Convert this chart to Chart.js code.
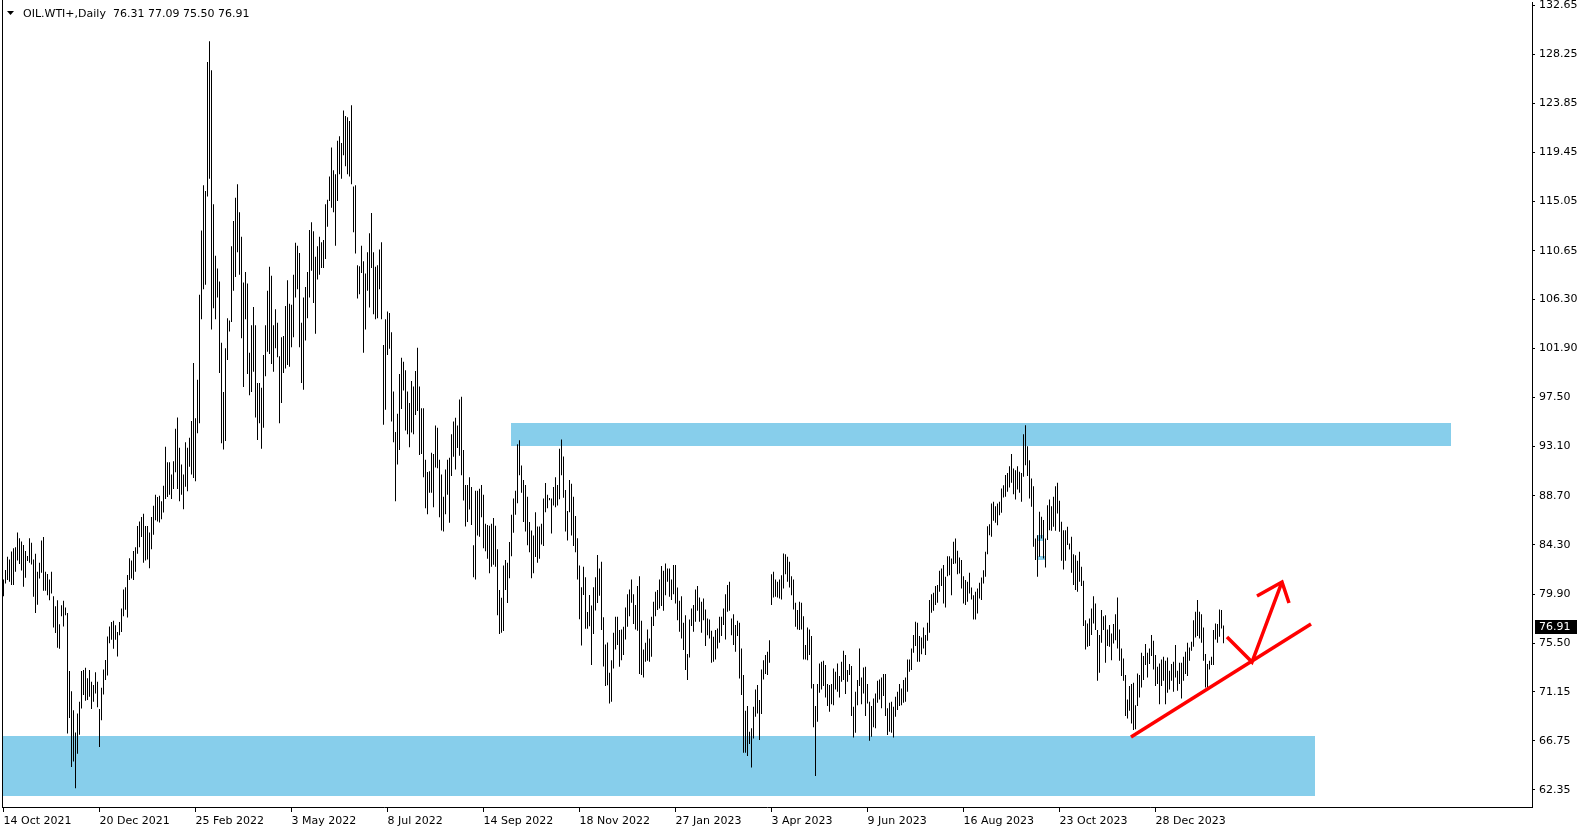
<!DOCTYPE html>
<html>
<head>
<meta charset="utf-8">
<title>OIL.WTI+ Daily</title>
<script src="https://cdn.jsdelivr.net/npm/chart.js@4.4.1/dist/chart.umd.min.js"></script>
<style>
  html, body { margin: 0; padding: 0; background: #fff; overflow: hidden; }
  #wrap { position: relative; width: 1583px; height: 832px; }
</style>
</head>
<body>
<div id="wrap"><canvas id="myChart"></canvas></div>
<script>
// header
const symbolName = 'OIL.WTI+,Daily';
const lastBar = [76.31, 77.09, 75.50, 76.91];   // open high low close of the last bar

// daily bars, one value per bar (index 0 = 14 Oct 2021)
const barLow = [
  79.7, 80.85, 81.15, 81.0, 80.7, 80.7, 81.9, 82.9, 82.6, 82.0,            // 0
  80.55, 81.35, 82.85, 82.7, 82.55, 79.65, 78.2, 78.95, 81.3, 81.8,        // 10
  80.2, 80.2, 79.8, 79.35, 79.95, 76.9, 76.4, 75.1, 75.0, 77.9,            // 20
  77.0, 78.0, 67.4, 68.8, 64.4, 64.9, 62.5, 65.6, 67.3, 69.65,             // 30
  70.85, 70.35, 70.4, 70.7, 69.6, 70.25, 71.0, 69.75, 66.2, 68.6,          // 40
  70.9, 72.2, 72.6, 75.5, 75.8, 75.0, 75.8, 74.3, 76.2, 76.5,              // 50
  77.9, 78.5, 77.8, 81.15, 81.3, 81.15, 81.9, 83.5, 84.1, 85.0,            // 60
  82.7, 82.9, 83.0, 82.2, 83.9, 85.2, 86.5, 86.4, 86.3, 86.6,              // 70
  87.2, 88.4, 88.6, 88.8, 88.4, 89.3, 90.8, 89.3, 88.2, 88.8,              // 80
  87.5, 89.5, 89.1, 91.3, 90.6, 90.3, 90.0, 94.3, 95.2, 104.5,             // 90
  107.2, 107.6, 115.5, 117.1, 103.6, 105.5, 104.5, 106.45, 99.7, 93.4,     // 100
  92.85, 93.6, 100.85, 103.4, 104.27, 107.05, 108.3, 110.5, 108.5, 102.8,  // 110
  98.45, 104.5, 99.6, 97.7, 98.0, 99.8, 95.7, 93.7, 95.2, 92.9,            // 120
  94.8, 99.4, 101.6, 101.4, 100.5, 99.8, 101.9, 101.1, 95.2, 97.0,         // 130
  99.7, 100.1, 100.4, 100.25, 102.0, 102.9, 106.45, 107.2, 102.0, 98.8,    // 140
  98.2, 102.6, 104.6, 106.45, 108.85, 105.97, 103.2, 108.06, 108.5, 109.1, // 150
  109.1, 109.9, 112.8, 115.1, 114.5, 114.1, 111.1, 115.1, 117.5, 117.1,    // 160
  119.2, 118.2, 117.5, 117.3, 116.6, 112.3, 110.4, 106.36, 106.75, 108.66, // 170
  101.5, 103.6, 107.05, 105.56, 109.1, 104.96, 104.5, 104.6, 107.2, 104.5, // 180
  95.05, 96.4, 101.3, 101.86, 95.35, 93.5, 88.2, 91.5, 92.8, 96.46,        // 190
  98.13, 94.54, 94.2, 93.05, 94.37, 94.2, 95.94, 96.3, 92.35, 92.45,       // 200
  90.36, 87.58, 87.05, 88.97, 88.97, 87.68, 91.24, 91.17, 86.78, 85.6,     // 210
  85.49, 87.05, 88.8, 86.29, 90.47, 92.2, 91.06, 92.98, 92.28, 90.54,      // 220
  88.27, 85.94, 86.36, 87.47, 86.08, 81.41, 81.2, 85.14, 85.03, 86.78,     // 230
  83.99, 83.74, 83.05, 81.76, 82.35, 82.53, 82.35, 78.0, 76.33, 76.43,     // 240
  76.6, 80.26, 79.1, 81.31, 83.29, 85.38, 86.99, 88.03, 90.54, 88.97,      // 250
  86.36, 85.49, 84.27, 83.64, 81.31, 81.76, 83.22, 82.7, 83.05, 84.34,     // 260
  84.2, 87.23, 87.58, 88.3, 85.31, 87.82, 87.68, 87.82, 88.38, 90.54,      // 270
  88.52, 85.49, 84.69, 87.23, 85.14, 84.2, 83.64, 81.2, 77.65, 75.28,      // 280
  79.81, 76.78, 76.78, 77.02, 73.54, 76.33, 78.42, 79.1, 79.74, 76.67,     // 290
  73.4, 71.66, 71.73, 70.1, 70.25, 73.24, 74.94, 75.33, 73.39, 73.98,      // 300
  74.43, 75.83, 76.97, 77.92, 79.12, 77.21, 76.73, 76.61, 72.73, 72.64,    // 310
  72.43, 73.83, 73.92, 73.83, 74.28, 77.03, 77.92, 78.46, 78.61, 78.82,    // 320
  78.4, 79.8, 81.0, 79.65, 79.36, 79.89, 79.06, 77.56, 76.52, 75.92,       // 330
  74.88, 73.09, 72.19, 74.22, 77.03, 76.52, 77.42, 78.4, 77.42, 76.43,     // 340
  77.56, 75.24, 76.2, 75.92, 73.74, 73.83, 74.04, 75.03, 75.54, 76.13,     // 350
  77.12, 75.83, 78.31, 78.4, 76.2, 75.33, 74.73, 76.13, 72.34, 70.85,      // 360
  65.69, 65.69, 65.39, 66.46, 64.37, 66.97, 68.91, 69.21, 66.82, 69.15,    // 370
  72.25, 72.73, 72.64, 73.74, 78.91, 79.59, 79.65, 79.59, 79.5, 79.41,     // 380
  80.4, 81.68, 81.0, 80.49, 79.8, 78.52, 76.97, 76.73, 76.67, 76.73,       // 390
  74.04, 74.04, 73.98, 74.43, 71.45, 67.96, 63.6, 68.46, 71.06, 71.36,     // 400
  71.66, 70.64, 69.87, 69.36, 70.04, 69.95, 71.36, 71.15, 70.64, 72.04,    // 410
  72.19, 70.94, 72.04, 72.64, 68.97, 67.06, 67.48, 69.95, 71.66, 70.04,    // 420
  70.99, 68.97, 70.1, 66.76, 67.12, 67.96, 67.87, 70.16, 70.46, 69.66,     // 430
  70.76, 68.97, 67.27, 67.57, 67.48, 67.06, 68.91, 69.51, 69.87, 69.95,    // 440
  70.16, 70.25, 71.15, 72.94, 73.09, 74.64, 75.24, 73.83, 73.83, 74.5,     // 450
  75.03, 74.43, 75.71, 76.43, 78.22, 78.4, 78.91, 79.12, 80.1, 80.61,      // 460
  79.06, 78.7, 81.5, 81.59, 79.8, 82.58, 82.64, 81.68, 81.74, 80.4,        // 470
  79.06, 78.91, 79.21, 79.95, 79.41, 77.62, 77.62, 78.16, 79.5, 79.36,     // 480
  80.85, 81.44, 83.47, 85.17, 85.02, 86.46, 86.28, 86.07, 86.96, 87.17,    // 490
  88.55, 88.61, 89.05, 89.44, 89.86, 88.84, 88.37, 89.26, 88.96, 88.16,    // 500
  90.4, 91.44, 90.46, 88.46, 87.71, 84.13, 82.94, 81.44, 83.23, 84.88,     // 510
  83.08, 82.28, 84.73, 85.62, 85.56, 85.92, 85.56, 87.11, 85.47, 82.88,    // 520
  82.1, 82.88, 84.28, 83.89, 81.8, 80.7, 80.25, 80.1, 80.99, 80.61,        // 530
  77.03, 74.94, 75.18, 75.24, 76.22, 77.27, 76.67, 72.13, 72.85, 75.54,    // 540
  76.67, 73.74, 75.24, 75.18, 73.98, 75.48, 75.77, 75.03, 73.92, 72.55,    // 550
  72.13, 68.97, 68.76, 69.45, 68.31, 67.72, 67.78, 69.87, 70.64, 71.54,    // 560
  72.19, 73.54, 72.43, 73.63, 74.34, 73.15, 71.66, 71.84, 70.04, 71.66,    // 570
  72.13, 70.04, 71.06, 71.36, 72.13, 71.15, 72.43, 71.24, 71.84, 70.55,    // 580
  72.13, 72.73, 72.55, 73.92, 74.82, 75.18, 76.01, 76.13, 75.92, 75.54,    // 590
  73.92, 71.54, 71.45, 73.15, 73.54, 73.54, 75.83, 75.54, 76.07, 76.82,    // 600
  75.50                                                                    // 610
];
const barHigh = [
  81.2, 82.05, 83.24, 83.0, 83.7, 84.0, 84.1, 85.4, 84.9, 84.6,            // 0
  84.3, 83.75, 83.3, 84.9, 84.5, 83.0, 83.5, 81.9, 82.7, 84.7,             // 10
  85.0, 81.9, 81.7, 81.2, 81.9, 79.7, 78.8, 79.35, 77.2, 78.9,             // 20
  79.3, 78.7, 78.2, 73.0, 71.2, 69.5, 67.5, 69.2, 70.25, 73.0,             // 30
  73.1, 73.3, 72.35, 73.1, 72.05, 71.75, 72.9, 72.05, 69.6, 71.5,          // 40
  73.15, 74.0, 76.1, 77.0, 77.4, 77.5, 77.1, 76.5, 77.4, 78.6,             // 50
  80.3, 80.5, 81.6, 83.1, 82.9, 83.75, 84.1, 86.0, 86.4, 86.8,             // 60
  87.1, 86.0, 86.0, 85.4, 86.8, 87.8, 88.8, 88.6, 88.7, 88.2,              // 70
  89.6, 93.1, 91.7, 91.7, 90.6, 91.8, 94.7, 95.7, 93.0, 91.5,              // 80
  90.6, 93.5, 93.0, 93.9, 95.4, 100.6, 95.65, 99.1, 106.7, 112.45,         // 90
  116.5, 116.0, 127.55, 129.4, 126.8, 114.8, 110.2, 109.05, 107.9, 102.4,  // 100
  98.0, 101.9, 104.6, 104.4, 111.05, 113.3, 115.4, 116.6, 114.1, 111.9,    // 110
  107.8, 108.75, 107.7, 101.5, 103.97, 105.6, 103.97, 98.8, 98.8, 98.37,   // 120
  101.3, 103.97, 107.05, 109.2, 108.4, 103.97, 105.4, 104.2, 101.2, 102.9, // 130
  103.0, 105.7, 108.0, 105.9, 105.8, 108.5, 111.35, 111.1, 110.45, 104.2,  // 140
  106.45, 107.4, 108.75, 112.5, 113.2, 112.4, 110.1, 111.05, 111.9, 111.4, // 150
  111.6, 114.8, 115.2, 117.3, 119.9, 117.85, 117.5, 120.5, 120.9, 120.3,   // 160
  123.2, 122.7, 122.6, 122.27, 123.67, 116.4, 116.5, 109.35, 109.26, 111.1,// 170
  109.7, 108.6, 110.5, 112.2, 114.03, 110.5, 109.2, 109.35, 110.75, 111.4, // 180
  102.2, 104.5, 105.2, 105.06, 103.35, 98.03, 94.4, 96.04, 99.6, 101.06,   // 190
  100.7, 99.94, 98.03, 97.0, 98.97, 98.48, 99.87, 101.96, 98.48, 96.53,    // 200
  96.53, 91.93, 90.82, 90.89, 92.56, 92.45, 95.0, 94.79, 91.93, 90.6,      // 210
  88.62, 91.06, 91.93, 92.1, 94.2, 95.35, 95.69, 95.0, 97.33, 97.57,       // 220
  92.8, 89.67, 89.67, 90.36, 89.49, 84.27, 89.15, 89.15, 89.32, 89.67,     // 230
  88.8, 86.19, 86.08, 86.01, 86.19, 86.71, 86.01, 83.92, 80.26, 79.57,     // 240
  82.46, 82.95, 82.7, 84.55, 86.99, 88.45, 89.15, 93.32, 93.67, 91.41,     // 250
  90.12, 89.67, 88.62, 86.36, 85.6, 85.14, 87.23, 85.94, 85.94, 86.19,     // 260
  88.45, 89.84, 88.8, 88.5, 88.45, 89.49, 90.36, 89.67, 92.91, 93.74,      // 270
  92.21, 89.22, 87.33, 90.12, 89.77, 88.62, 86.88, 84.89, 82.46, 80.51,    // 280
  82.35, 81.41, 78.28, 79.81, 78.87, 80.51, 81.41, 83.4, 82.18, 82.8,      // 290
  77.82, 75.39, 75.56, 72.84, 73.98, 76.43, 77.86, 77.86, 76.67, 76.73,    // 300
  76.97, 78.7, 79.89, 80.31, 81.21, 79.89, 78.91, 80.61, 81.5, 77.51,      // 310
  74.94, 75.54, 76.73, 75.92, 77.86, 79.21, 80.1, 80.25, 81.21, 82.4,      // 320
  81.98, 82.64, 82.19, 82.19, 81.21, 82.49, 82.49, 80.49, 79.3, 79.71,     // 330
  77.33, 78.01, 74.52, 77.62, 78.61, 78.91, 80.31, 80.61, 79.59, 79.21,    // 340
  79.5, 78.52, 77.71, 77.62, 76.61, 76.07, 76.67, 76.82, 77.86, 77.86,     // 350
  78.61, 79.89, 80.7, 81.0, 77.71, 78.1, 77.12, 77.51, 77.33, 75.03,       // 360
  72.64, 69.45, 69.87, 67.57, 67.87, 69.81, 71.36, 71.75, 70.4, 73.15,     // 370
  73.98, 74.43, 74.73, 75.77, 81.68, 81.89, 81.21, 81.0, 81.21, 81.59,     // 380
  83.53, 83.47, 83.23, 82.79, 81.5, 81.21, 79.12, 78.46, 79.21, 79.12,     // 390
  77.92, 75.33, 76.91, 76.73, 76.13, 71.84, 69.87, 71.84, 73.68, 73.83,    // 400
  73.92, 73.54, 71.84, 71.75, 71.84, 73.24, 72.94, 73.68, 72.55, 73.83,    // 410
  74.82, 74.43, 73.09, 73.63, 73.45, 69.81, 71.15, 72.19, 75.03, 72.43,    // 420
  73.33, 73.39, 71.84, 70.25, 69.87, 70.55, 71.0, 72.13, 72.25, 72.43,     // 430
  72.73, 72.73, 69.66, 70.16, 70.25, 69.81, 70.7, 71.15, 71.84, 71.45,     // 440
  72.19, 72.43, 74.04, 74.04, 75.03, 76.22, 77.42, 77.33, 76.13, 76.01,    // 450
  76.91, 76.22, 77.33, 79.36, 79.89, 80.01, 80.61, 80.7, 81.98, 82.19,     // 460
  82.49, 81.44, 83.29, 83.29, 83.08, 84.58, 84.88, 83.77, 83.17, 82.94,    // 470
  81.5, 81.15, 81.0, 81.8, 80.49, 79.8, 80.1, 80.4, 80.91, 81.38,          // 480
  82.04, 83.68, 85.98, 86.16, 88.01, 88.16, 87.77, 88.01, 88.16, 89.35,    // 490
  89.65, 90.55, 90.75, 91.35, 92.43, 91.14, 90.99, 91.35, 90.84, 90.75,    // 500
  94.22, 95.02, 93.14, 91.89, 90.25, 89.56, 84.88, 85.17, 87.26, 86.82,    // 510
  86.52, 84.88, 87.86, 88.37, 87.77, 88.61, 89.56, 89.86, 88.25, 86.37,    // 520
  85.62, 85.62, 85.92, 84.43, 85.02, 83.47, 83.38, 82.88, 83.68, 82.34,    // 530
  81.09, 77.56, 77.27, 77.71, 78.61, 79.71, 79.06, 76.67, 76.22, 78.46,    // 540
  77.92, 78.01, 76.73, 77.12, 76.37, 77.21, 78.1, 79.59, 76.73, 75.03,     // 550
  74.13, 72.64, 70.46, 71.66, 71.84, 71.96, 69.95, 72.79, 72.64, 74.64,    // 560
  74.34, 75.42, 74.64, 75.03, 76.22, 75.71, 74.43, 73.39, 73.68, 74.04,    // 570
  74.28, 73.92, 74.22, 73.03, 73.63, 73.83, 75.33, 73.03, 73.74, 73.74,    // 580
  74.28, 74.73, 75.54, 75.12, 75.62, 77.56, 78.31, 79.36, 78.31, 78.1,     // 590
  76.91, 74.52, 73.63, 73.92, 74.28, 76.67, 77.27, 77.21, 78.52, 78.46,    // 600
  77.09                                                                    // 610
];

// time scale labels and the bar each one sits on
const timeLabels = ['14 Oct 2021', '20 Dec 2021', '25 Feb 2022', '3 May 2022', '8 Jul 2022',
  '14 Sep 2022', '18 Nov 2022', '27 Jan 2023', '3 Apr 2023', '9 Jun 2023', '16 Aug 2023',
  '23 Oct 2023', '28 Dec 2023'];
const timeLabelBars = [0, 48, 96, 144, 192, 240, 288, 336, 384, 432, 480, 528, 576];

// price scale labels
const priceTicks = [62.35, 66.75, 71.15, 75.50, 79.90, 84.30, 88.70, 93.10, 97.50, 101.90,
  106.30, 110.65, 115.05, 119.45, 123.85, 128.25, 132.65];

// drawn objects (bar index / price)
const zones = [
  { from: -0.75, to: 655.75, low: 61.81, high: 67.19 },   // support
  { from: 253.75, to: 723.75, low: 93.15, high: 95.21 },  // resistance
  { from: 516.75, to: 520.25, low: 84.65, high: 85.19 },
  { from: 516.75, to: 520.75, low: 82.95, high: 83.30 }
];
const trendLine = [{ x: 563.75, y: 67.10 }, { x: 653.75, y: 77.22 }];
const arrowPath = [{ x: 611.75, y: 76.05 }, { x: 624.25, y: 73.81 }, { x: 639.25, y: 80.98 }];
const arrowHead = [{ x: 626.75, y: 79.72 }, { x: 639.25, y: 80.98 }, { x: 642.75, y: 79.10 }];

const FONT = 'DejaVu Sans';

const bars = barLow.map((lo, i) => ({ x: i, y: [lo, barHigh[i]] }));

// zones under the bars, frame, header and last price box on top
const mtOverlay = {
  id: 'mtOverlay',
  beforeDatasetsDraw(chart) {
    const { ctx, chartArea: a, scales: { x, y } } = chart;
    ctx.save();
    ctx.beginPath();
    ctx.rect(a.left, a.top, a.right - a.left, a.bottom - a.top);
    ctx.clip();
    ctx.fillStyle = '#87CEEB';
    zones.forEach(z => {
      const x0 = Math.round(x.getPixelForValue(z.from));
      const x1 = Math.round(x.getPixelForValue(z.to));
      const y0 = Math.round(y.getPixelForValue(z.high));
      const y1 = Math.round(y.getPixelForValue(z.low));
      ctx.fillRect(x0, y0, x1 - x0, y1 - y0);
    });
    ctx.restore();
  },
  afterDraw(chart) {
    const { ctx, chartArea: a, scales: { y } } = chart;
    ctx.save();
    ctx.fillStyle = '#000';
    ctx.fillRect(a.left, 0, 1, a.bottom);

    // header
    ctx.beginPath();
    ctx.moveTo(7, 11); ctx.lineTo(14, 11); ctx.lineTo(10.5, 15); ctx.closePath();
    ctx.fill();
    ctx.font = '11px "' + FONT + '"';
    ctx.textBaseline = 'middle';
    ctx.textAlign = 'left';
    ctx.fillText(symbolName, 23, 14.5);
    ctx.fillText(lastBar.map(v => v.toFixed(2)).join(' '), 113, 14.5);

    // last price
    const py = Math.round(y.getPixelForValue(lastBar[3]));
    ctx.fillRect(a.right + 3, py - 7, 42, 14);
    ctx.fillStyle = '#fff';
    ctx.fillText(lastBar[3].toFixed(2), a.right + 7, py + 0.5);
    ctx.restore();
  }
};

const lineStyle = {
  type: 'line',
  borderColor: '#ff0000',
  borderWidth: 3.5,
  pointRadius: 0,
  fill: false,
  tension: 0,
  borderJoinStyle: 'miter',
  order: 1
};

new Chart(document.getElementById('myChart'), {
  data: {
    datasets: [
      {
        type: 'bar',
        data: bars,
        backgroundColor: '#000',
        borderWidth: 0,
        barThickness: 1,
        inflateAmount: 0,
        order: 2
      },
      Object.assign({ data: trendLine }, lineStyle),
      Object.assign({ data: arrowPath }, lineStyle),
      Object.assign({ data: arrowHead }, lineStyle)
    ]
  },
  options: {
    responsive: true,
    maintainAspectRatio: false,
    animation: false,
    events: [],
    layout: { padding: { left: 2, top: 2, right: 0, bottom: 0 }, autoPadding: false },
    plugins: { legend: { display: false }, tooltip: { enabled: false }, title: { display: false } },
    scales: {
      x: {
        type: 'linear',
        position: 'bottom',
        offset: false,
        min: -0.75,
        max: 764.25,
        bounds: 'data',
        grid: { offset: false, drawOnChartArea: false, drawTicks: true, tickLength: 5, tickColor: '#000' },
        border: { display: true, color: '#000', width: 1 },
        ticks: {
          autoSkip: false, maxRotation: 0, align: 'start', padding: 3,
          color: '#000', font: { family: FONT, size: 11 },
          callback: (v, i) => timeLabels[i]
        },
        afterBuildTicks: s => { s.ticks = timeLabelBars.map(v => ({ value: v })); },
        afterFit: s => { s.height = 25; s.paddingLeft = 0; s.paddingRight = 0; }
      },
      y: {
        type: 'linear',
        position: 'right',
        min: 60.827,
        max: 132.92,
        bounds: 'data',
        grid: { drawOnChartArea: false, drawTicks: true, tickLength: 3, tickColor: '#000' },
        border: { display: true, color: '#000', width: 1 },
        ticks: {
          autoSkip: false, crossAlign: 'near', padding: 4,
          color: '#000', font: { family: FONT, size: 11 },
          callback: v => v.toFixed(2)
        },
        afterBuildTicks: s => { s.ticks = priceTicks.map(v => ({ value: v })); },
        afterFit: s => { s.width = 51; s.paddingTop = 0; s.paddingBottom = 0; }
      }
    }
  },
  plugins: [mtOverlay]
});
</script>
</body>
</html>
